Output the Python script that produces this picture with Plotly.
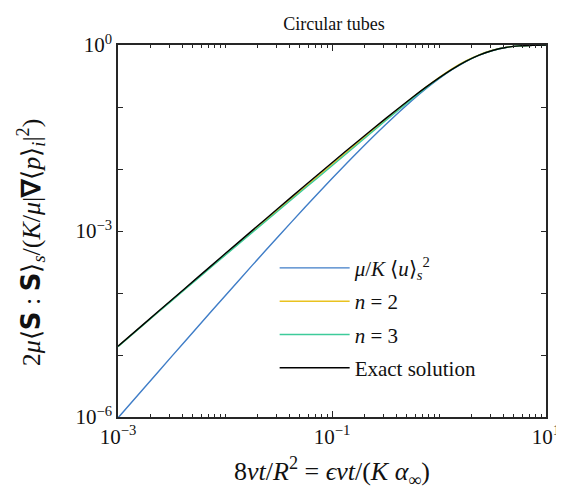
import plotly.graph_objects as go

# dimensionless time 8*nu*t/R^2
x_vals = [0.001, 0.0017783, 0.0031623, 0.0056234, 0.01, 0.017783, 0.031623, 0.056234,
          0.1, 0.17783, 0.31623, 0.56234, 0.74989, 1.0, 1.3335, 1.7783, 2.3714,
          3.1623, 4.217, 5.6234, 7.4989, 10.0]

mean_u_sq = [9.66e-7, 3.021e-6, 9.41e-6, 2.9146e-5, 8.964e-5, 2.736e-4, 8.24e-4, 2.436e-3,
             7.026e-3, 1.9583e-2, 5.1893e-2, 0.1285, 0.19505, 0.2859, 0.40292, 0.5408, 0.68499,
             0.8149, 0.91132, 0.9674, 0.99155, 0.9986]

n2_vals = [1.3734e-5, 3.2317e-5, 7.5775e-5, 1.7743e-4, 4.1364e-4, 9.6399e-4, 2.2432e-3, 5.1822e-3,
           1.1934e-2, 2.7601e-2, 6.28e-2, 0.14065, 0.20689, 0.29923, 0.41654, 0.5528, 0.69435,
           0.82286, 0.9156, 0.96967, 0.99156, 0.99861]

n3_vals = [1.3639e-5, 3.1947e-5, 7.4564e-5, 1.7379e-4, 4.0423e-4, 9.3341e-4, 2.1422e-3, 4.9262e-3,
           1.1266e-2, 2.6057e-2, 5.9973e-2, 0.13588, 0.20125, 0.29107, 0.40613, 0.54271, 0.6864,
           0.81532, 0.91139, 0.96744, 0.99156, 0.99861]

exact_vals = [1.3829e-5, 3.2691e-5, 7.7184e-5, 1.8198e-4, 4.2818e-4, 1.00478e-3, 2.3489e-3, 5.464e-3,
              1.2641e-2, 2.8902e-2, 6.5007e-2, 0.14228, 0.20689, 0.29512, 0.40894, 0.54396, 0.6864,
              0.81532, 0.91139, 0.96744, 0.99156, 0.99861]

names = ["<i>μ</i>/<i>K</i> ⟨<i>u</i>⟩<sub><i>s</i></sub><sup>2</sup>",
         "<i>n</i> = 2", "<i>n</i> = 3", "Exact solution"]
colors = ["#3F7DC7", "#E9C21F", "#3DCB9A", "#000000"]
series = [mean_u_sq, n2_vals, n3_vals, exact_vals]

x_tickvals = [1e-3, 1e-1, 1e1]
x_ticktext = ["10<sup>−3</sup>", "10<sup>−1</sup>", "10<sup>1</sup>"]
y_tickvals = [1e-6, 1e-3, 1e0]
y_ticktext = ["10<sup>−6</sup>", "10<sup>−3</sup>", "10<sup>0</sup>"]

FONT = "Liberation Serif"
AX = "#262626"
SANS_S = "<span style=\"font-family:'DejaVu Sans'\"><b>S</b></span>"
y_title = ("2<i>μ</i>⟨" + SANS_S + " : " + SANS_S + "⟩<sub><i>s</i></sub>"
           "/(<i>K</i>/<i>μ</i>|<b>∇</b>⟨<i>p</i>⟩<sub><i>i</i></sub>|<sup>2</sup>)")

fig = go.Figure()
for i, (nm, col, ys) in enumerate(zip(names, colors, series)):
    fig.add_trace(go.Scatter(x=x_vals, y=ys, mode="lines", name=nm, legendgroup=str(i),
                             line=dict(color=col, width=1.4, shape="spline", smoothing=0.6)))

fig.update_layout(
    width=564, height=492,
    margin=dict(l=110, r=14, t=37, b=83),
    paper_bgcolor="white", plot_bgcolor="white",
    font=dict(family=FONT, size=21, color="#111111"),
    title=dict(text="Circular tubes", x=(326 / 564), xanchor="center", y=1 - 16 / 492,
               yanchor="middle", font=dict(family=FONT, size=18, color="#111111")),
    legend=dict(x=0.366, y=0.455, xanchor="left", yanchor="top", bgcolor="rgba(0,0,0,0)",
                font=dict(family=FONT, size=21), itemwidth=70, tracegroupgap=3),
    showlegend=True,
    annotations=[dict(text=y_title, xref="paper", yref="paper", x=-0.203, y=0.47,
                      xanchor="center", yanchor="middle", textangle=-90, showarrow=False,
                      font=dict(family=FONT, size=26, color="#111111"))],
)
fig.update_xaxes(type="log", range=[-3, 1], tickmode="array", tickvals=x_tickvals,
                 ticktext=x_ticktext, ticks="inside", ticklen=6, tickwidth=1.2, tickcolor=AX,
                 ticklabeloverflow="allow",
                 showline=True, linecolor=AX, linewidth=1.5, mirror="allticks",
                 showgrid=False, zeroline=False,
                 minor=dict(ticks="inside", ticklen=3, tickwidth=1, tickcolor=AX, dtick="D1",
                            showgrid=False),
                 tickfont=dict(family=FONT, size=21),
                 title=dict(text="8<i>νt</i>/<i>R</i><sup>2</sup> = <i>ϵνt</i>/(<i>K α</i><sub>∞</sub>)",
                            font=dict(family=FONT, size=26), standoff=14))
fig.update_yaxes(type="log", range=[-6, 0], tickmode="array", tickvals=y_tickvals,
                 ticktext=y_ticktext, ticks="inside", ticklen=5, tickwidth=1.2, tickcolor=AX,
                 showline=True, linecolor=AX, linewidth=1.5, mirror="allticks",
                 showgrid=False, zeroline=False,
                 minor=dict(ticks="inside", ticklen=5, tickwidth=1.2, tickcolor=AX, dtick=1,
                            showgrid=False),
                 tickfont=dict(family=FONT, size=21))

fig.write_html("out.html")
